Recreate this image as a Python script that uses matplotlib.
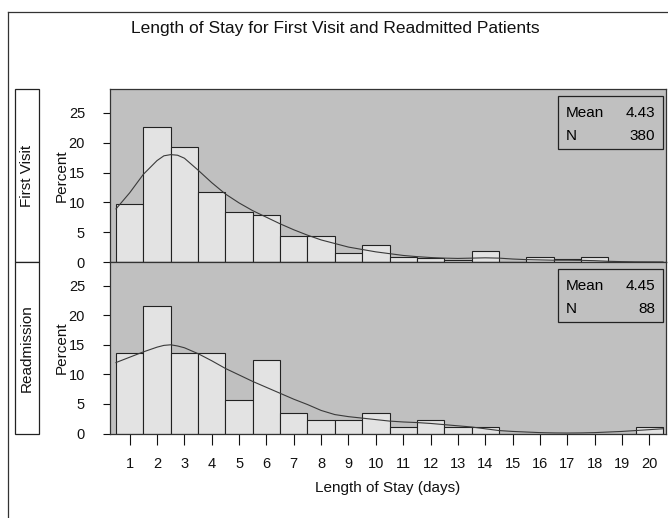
import matplotlib
matplotlib.use("Agg")
from matplotlib import pyplot as plt
from matplotlib.patches import Rectangle
from matplotlib.lines import Line2D

plt.rcParams['font.family'] = ['Liberation Sans', 'DejaVu Sans']

# Length of stay bins (days)
days = list(range(1, 21))

# Percent of patients per bin
first_visit_pct = [9.7, 22.6, 19.2, 11.8, 8.4, 7.9, 4.4, 4.4, 1.5, 2.9,
                   0.8, 0.7, 0.4, 1.8, 0.0, 0.8, 0.5, 0.8, 0.0, 0.0]
readmit_pct = [13.6, 21.6, 13.6, 13.6, 5.7, 12.5, 3.4, 2.3, 2.3, 3.4,
               1.1, 2.3, 1.1, 1.1, 0.0, 0.0, 0.0, 0.0, 0.0, 1.1]

# Kernel density curves
curve_x = [0.5, 1.0, 1.5, 2.0, 2.25, 2.5, 2.75, 3.0, 3.5, 4.0, 4.5, 5.0, 5.5,
           6.0, 6.5, 7.0, 7.5, 8.0, 8.5, 9.0, 9.5, 10.0, 10.5, 11.0, 11.5,
           12.0, 12.5, 13.0, 13.5, 14.0, 14.5, 15.0, 15.5, 16.0, 16.5, 17.0,
           17.5, 18.0, 18.5, 19.0, 19.5, 20.0, 20.5]
first_visit_curve = [8.9, 11.6, 14.7, 17.0, 17.8, 18.0, 17.9, 17.4, 15.4, 13.3,
                     11.4, 9.9, 8.6, 7.5, 6.4, 5.4, 4.5, 3.7, 3.1, 2.5, 2.1,
                     1.7, 1.4, 1.1, 0.9, 0.75, 0.65, 0.6, 0.65, 0.7, 0.65,
                     0.5, 0.4, 0.35, 0.3, 0.3, 0.28, 0.22, 0.12, 0.06, 0.02,
                     0.01, 0.0]
readmit_curve = [12.0, 12.9, 13.8, 14.6, 14.9, 15.0, 14.8, 14.5, 13.5, 12.3,
                 11.0, 9.9, 8.8, 7.8, 6.8, 5.8, 4.9, 3.9, 3.2, 2.85, 2.6,
                 2.35, 2.1, 1.95, 1.85, 1.7, 1.5, 1.3, 1.1, 0.8, 0.5, 0.35,
                 0.25, 0.15, 0.1, 0.08, 0.1, 0.15, 0.25, 0.35, 0.5, 0.65, 0.8]

groups = ['First Visit', 'Readmission']
means = ['4.43', '4.45']
counts = ['380', '88']
y_ticks = [0, 5, 10, 15, 20, 25]

fig = plt.figure(figsize=(6.68, 5.18), dpi=100)

W, H = 668.0, 518.0
left, right = 110 / W, 666 / W
panels = [(89, 262), (262, 433.5)]
fs = 10.5

all_pct = [first_visit_pct, readmit_pct]
all_curve = [first_visit_curve, readmit_curve]

for i, (top, bottom) in enumerate(panels):
    ax = fig.add_axes([left, 1 - bottom / H, right - left, (bottom - top) / H])
    ax.set_facecolor('#c0c0c0')
    ax.bar(days, all_pct[i], width=1.0, color='#e3e3e3', edgecolor='#222222',
           linewidth=0.8, zorder=2)
    ax.plot(curve_x, all_curve[i], color='#3a3a3a', linewidth=0.8, zorder=3,
            solid_joinstyle='round')

    ax.set_xlim(0.28, 20.61)
    ax.set_ylim(0, 29)
    ax.set_yticks(y_ticks)
    ax.tick_params(axis='y', direction='out', length=5, width=0.8,
                   pad=13, labelsize=fs, colors='#111111')
    ax.set_ylabel('Percent', fontsize=fs + 0.5, color='#111111')
    ax.yaxis.set_label_coords(-0.075, 0.5)

    if i == 1:
        ax.set_xticks(days)
        ax.tick_params(axis='x', direction='out', length=8, width=0.8,
                       pad=9, labelsize=fs, colors='#111111')
        ax.set_xlabel('Length of Stay (days)', fontsize=fs + 0.5,
                      color='#111111', labelpad=7)
    else:
        ax.set_xticks([])

    for s in ax.spines.values():
        s.set_color('#333333')
        s.set_linewidth(0.9)

    # stats inset
    ax.add_patch(Rectangle((0.805, 0.652), 0.19, 0.31, transform=ax.transAxes,
                           facecolor='none', edgecolor='#222222',
                           linewidth=0.9, zorder=4))
    ax.text(0.82, 0.862, 'Mean', transform=ax.transAxes, fontsize=fs + 0.5,
            va='center', ha='left', zorder=5)
    ax.text(0.981, 0.862, means[i], transform=ax.transAxes, fontsize=fs + 0.5,
            va='center', ha='right', zorder=5)
    ax.text(0.82, 0.728, 'N', transform=ax.transAxes, fontsize=fs + 0.5,
            va='center', ha='left', zorder=5)
    ax.text(0.981, 0.728, counts[i], transform=ax.transAxes, fontsize=fs + 0.5,
            va='center', ha='right', zorder=5)

    # strip label box on the left
    fig.patches.append(Rectangle((15 / W, 1 - bottom / H), 24 / W,
                                 (bottom - top) / H, transform=fig.transFigure,
                                 facecolor='white', edgecolor='#222222',
                                 linewidth=0.9))
    fig.text(27 / W, 1 - (top + bottom) / 2 / H, groups[i], rotation=90,
             ha='center', va='center', fontsize=fs + 0.5, color='#111111')

fig.text(0.5015, 1 - 28 / H, 'Length of Stay for First Visit and Readmitted Patients',
         ha='center', va='center', fontsize=12.5, color='#111111')

# outer frame (cut off on the right and bottom)
fig.lines.append(Line2D([8 / W, 8 / W], [0, 1 - 12 / H], transform=fig.transFigure,
                        color='#333333', linewidth=0.9))
fig.lines.append(Line2D([8 / W, 1], [1 - 12 / H, 1 - 12 / H], transform=fig.transFigure,
                        color='#333333', linewidth=0.9))

plt.savefig('out.png', dpi=100)
